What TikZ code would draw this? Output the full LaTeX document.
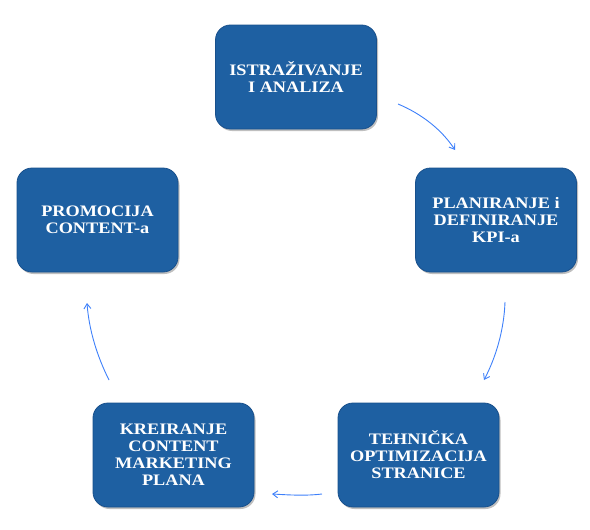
\documentclass[tikz,border=0pt]{standalone}
\usepackage{fontspec}
\setmainfont{Liberation Serif}[FakeStretch=1.14]
\usetikzlibrary{shadows,arrows.meta}
\definecolor{boxblue}{RGB}{30,96,162}
\definecolor{boxedge}{RGB}{24,80,140}
\definecolor{arrowblue}{RGB}{62,128,250}
\tikzset{
  stepbox/.style={draw=boxedge, line width=0.8pt, fill=boxblue, rounded corners=15pt,
    minimum width=161pt, minimum height=104pt, align=center, text=white,
    font=\bfseries\fontsize{16}{17}\selectfont,
    drop shadow={shadow xshift=1.5pt, shadow yshift=-2pt, opacity=0.25, fill=black}},
  flow/.style={draw=arrowblue, line width=0.9pt, -{Straight Barb[length=5pt,width=7pt]}}
}
\begin{document}
\begin{tikzpicture}[x=1pt,y=-1pt]
\useasboundingbox (0,0) rectangle (590,530);
\node[stepbox] (a) at (296,77) {ISTRAŽIVANJE\\I ANALIZA};
\node[stepbox] (b) at (496,220) {PLANIRANJE i\\DEFINIRANJE\\KPI-a};
\node[stepbox] (c) at (418.5,455) {TEHNIČKA\\OPTIMIZACIJA\\STRANICE};
\node[stepbox] (d) at (173.5,455) {KREIRANJE\\CONTENT\\MARKETING\\PLANA};
\node[stepbox] (e) at (97.5,220) {PROMOCIJA\\CONTENT-a};
\coordinate (a1) at (398,104);
\coordinate (a2) at (455,150);
\coordinate (b1) at (505,302);
\coordinate (b2) at (484,380);
\coordinate (c1) at (322,494);
\coordinate (c2) at (272,494);
\coordinate (d1) at (109,380);
\coordinate (d2) at (87,303);
\draw[flow] (a1) .. controls (422,114) and (442,130) .. (a2);
\draw[flow] (b1) .. controls (504,330) and (496,357) .. (b2);
\draw[flow] (c1) .. controls (305,496) and (290,495) .. (c2);
\draw[flow] (d1) .. controls (97,356) and (89,330) .. (d2);
\end{tikzpicture}
\end{document}
